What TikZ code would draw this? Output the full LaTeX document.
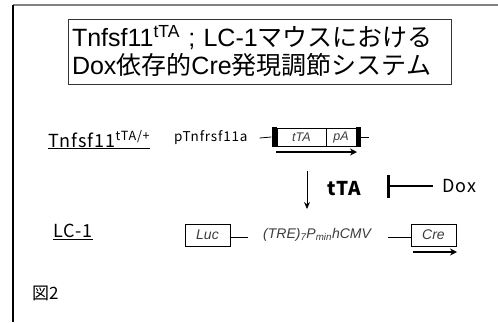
\documentclass[tikz,border=0pt]{standalone}
\usepackage{fontspec}
\setmainfont{Liberation Sans}
\newfontfamily\jpfont{Noto Sans CJK JP}
\newfontfamily\jplabel[LetterSpace=6]{Noto Sans CJK JP}
\usetikzlibrary{arrows.meta, positioning}
\definecolor{slideGray}{RGB}{130,130,130}
\definecolor{geneText}{RGB}{60,60,60}

\begin{document}
\begin{tikzpicture}[x=1pt, y=-1pt,
  ttl/.style={rectangle, draw=black!80, line width=0.8pt, align=left,
    font=\fontsize{25}{28}\selectfont, inner xsep=4pt, inner ysep=3pt},
  lbl/.style={inner sep=0pt, anchor=west, font=\jplabel\fontsize{18}{21}\selectfont},
  prm/.style={inner sep=0pt, anchor=west, font=\jplabel\fontsize{13.5}{16}\selectfont},
  gene/.style={rectangle, draw, line width=0.8pt, inner sep=0pt,
    font=\itshape\fontsize{14}{16}\selectfont, text=geneText},
  endbar/.style={rectangle, fill=black, inner sep=0pt,
    minimum width=5pt, minimum height=20pt},
  wire/.style={line width=0.8pt},
  txn/.style={line width=1.6pt, -{Stealth[length=7pt, width=7pt]}},
]
%% canvas: 498 x 322, 1pt = 1px of the slide
\useasboundingbox (0,0) rectangle (498,322);
\draw[slideGray, line width=1.2pt] (13,5) -- (498,5);
\draw[black, line width=1.2pt] (13,5) -- (13,322);

%% ── Title ───────────────────────────────────────────────────────────────────
\node[ttl, text width=375pt, minimum height=65pt] (title) at (259.5,51.5)
  {Tnfsf11\textsuperscript{tTA} ; LC-1{\jpfont マウスにおける}\\
   Dox{\jpfont 依存的}Cre{\jpfont 発現調節システム}};

%% ── Row 1: Tnfsf11 tTA allele ───────────────────────────────────────────────
\def\ra{137}
\node[lbl] (tnf)  at (48,140)  {\underline{Tnfsf11\textsuperscript{tTA/+}}};
\node[prm] (ptnf) at (174,138) {pTnfrsf11a};
\node[endbar] (barL) at (274,\ra) {};
\node[gene, minimum width=49pt, minimum height=18pt,
      font=\itshape\fontsize{12.5}{14}\selectfont] (tta) at (301.5,\ra) {tTA};
\node[gene, minimum width=30pt, minimum height=18pt,
      font=\itshape\fontsize{12.5}{14}\selectfont] (pa)  at (341,\ra)   {pA};
\node[endbar] (barR) at (358.5,\ra) {};
\coordinate (endA) at (369,\ra);
\draw[wire] ([xshift=12pt]ptnf.east) -- (barL.west);
\draw[wire] (barR.east) -- (endA);
\coordinate (txA1) at (276,152);
\coordinate (txA2) at (357,152);
\draw[txn] (txA1) -- (txA2);

%% ── tTA action, Dox block ───────────────────────────────────────────────────
\coordinate (actTop) at (307,171);
\coordinate (actBot) at (307,209);
\draw[line width=1pt, -{Stealth[length=7pt, width=6pt]}] (actTop) -- (actBot);
\node[lbl, font=\jplabel\bfseries\fontsize{19}{22}\selectfont] (ttaL) at (327,189) {tTA};
\node[lbl, font=\jplabel\fontsize{18}{21}\selectfont] (dox) at (442,186) {Dox};
\coordinate (blk) at (387,186);
\draw[line width=1.2pt, -{Bar[width=23pt, line width=2.6pt]}] ([xshift=-9pt]dox.west) -- (blk);

%% ── Row 2: LC-1 (TRE) transgene ─────────────────────────────────────────────
\def\rb{235}
\node[lbl] (lc) at (53,232) {\underline{LC-1}};
\node[gene, minimum width=45pt, minimum height=22pt] (luc) at (207.5,\rb) {Luc};
\node[prm, font=\itshape\fontsize{14}{16}\selectfont, text=geneText] (tre) at (263,\rb)
  {(TRE)\textsubscript{7}P\textsubscript{min}hCMV};
\node[gene, minimum width=45pt, minimum height=22pt] (cre) at (433.5,\rb) {Cre};
\coordinate (lucEnd)   at (248,237);
\coordinate (creStart) at (388,237);
\draw[wire] (luc.east |- lucEnd) -- (lucEnd);
\draw[wire] (creStart) -- (cre.west |- creStart);
\coordinate (txB1) at (413,252);
\coordinate (txB2) at (457,252);
\draw[txn] (txB1) -- (txB2);

%% ── Figure tag ──────────────────────────────────────────────────────────────
\node[lbl, font=\jpfont\fontsize{17}{20}\selectfont] (fig) at (32,293) {図2};

\end{tikzpicture}
\end{document}
